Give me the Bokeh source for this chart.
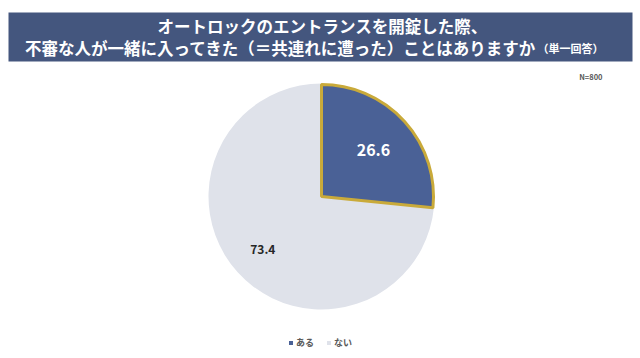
import math
from bokeh.plotting import figure
from bokeh.models import Range1d, Legend, LegendItem
from bokeh.core.properties import value
from bokeh.embed import file_html
from bokeh.resources import INLINE

# ---- data ----
title_line1 = "オートロックのエントランスを開錠した際、"
title_line2 = "不審な人が一緒に入ってきた（＝共連れに遭った）ことはありますか"
title_suffix = "（単一回答）"
sample_note = "N=800"
categories = ["ある", "ない"]
shares = [26.6, 73.4]
colors = ["#4a6196", "#dfe2ea"]
label_colors = ["#ffffff", "#262626"]
label_sizes = ["16px", "12px"]

W, H = 640, 358
FONT = value("Noto Sans CJK JP")

p = figure(width=W, height=H, output_backend="svg", toolbar_location=None,
           x_range=Range1d(0, W), y_range=Range1d(0, H),
           x_axis_type=None, y_axis_type=None, min_border=0)
p.outline_line_color = None
p.grid.visible = False
p.background_fill_color = "#ffffff"
p.border_fill_color = "#ffffff"

# title banner
p.quad(left=8, right=632, bottom=H - 61, top=H - 12, fill_color="#44567e", line_color=None)
p.text(x=[322], y=[H - 25], text=[title_line1], text_font=FONT, text_font_size="16.5px",
       text_font_style="bold", text_color="white", text_align="center", text_baseline="middle")
p.text(x=[536], y=[H - 47], text=[title_line2], text_font=FONT, text_font_size="16.5px",
       text_font_style="bold", text_color="white", text_align="right", text_baseline="middle")
p.text(x=[537], y=[H - 47], text=[title_suffix], text_font=FONT, text_font_size="11px",
       text_font_style="bold", text_color="white", text_align="left", text_baseline="middle")
p.text(x=[602], y=[H - 75.5], text=[sample_note], text_font=FONT, text_font_size="7.5px",
       text_font_style="bold", text_color="#595959", text_align="right", text_baseline="middle")

# pie
cx, cy, R = 321, H - 196, 113
total = sum(shares)
label_r = [0.62, 0.7]
starts, ends, lx, ly = [], [], [], []
acc = 0.0
for i, s in enumerate(shares):
    a0 = math.pi / 2 - 2 * math.pi * acc / total
    a1 = math.pi / 2 - 2 * math.pi * (acc + s) / total
    starts.append(a0)
    ends.append(a1)
    mid = (a0 + a1) / 2
    lx.append(cx + label_r[i] * R * math.cos(mid))
    ly.append(cy + label_r[i] * R * math.sin(mid))
    acc += s

# gray slice first, then highlighted slice on top
p.wedge(x=cx, y=cy, radius=R, start_angle=starts[1], end_angle=ends[1], direction="clock",
        fill_color=colors[1], line_color=None)
p.wedge(x=cx, y=cy, radius=R - 1, start_angle=starts[0], end_angle=ends[0], direction="clock",
        fill_color=colors[0], line_color="#c9aa3a", line_width=3)

for i in range(len(shares)):
    p.text(x=[lx[i]], y=[ly[i]], text=[f"{shares[i]:.1f}"], text_font=FONT,
           text_font_size=label_sizes[i], text_font_style="bold", text_color=label_colors[i],
           text_align="center", text_baseline="middle")

# legend (off-screen proxy renderers)
items = []
for c, col in zip(categories, colors):
    r = p.rect(x=[-100], y=[-100], width=1, height=1, fill_color=col, line_color=None)
    items.append(LegendItem(label=c, renderers=[r]))
legend = Legend(items=items, orientation="horizontal", location=(288, 9),
                glyph_width=5, glyph_height=5, label_height=9, label_text_font_size="9px",
                label_text_font="Noto Sans CJK JP", label_text_font_style="bold",
                label_text_color="#595959", spacing=10, padding=0, margin=0, label_standoff=3,
                border_line_color=None, background_fill_alpha=0)
p.add_layout(legend, "center")

open("out.html", "w").write(file_html(p, INLINE))
